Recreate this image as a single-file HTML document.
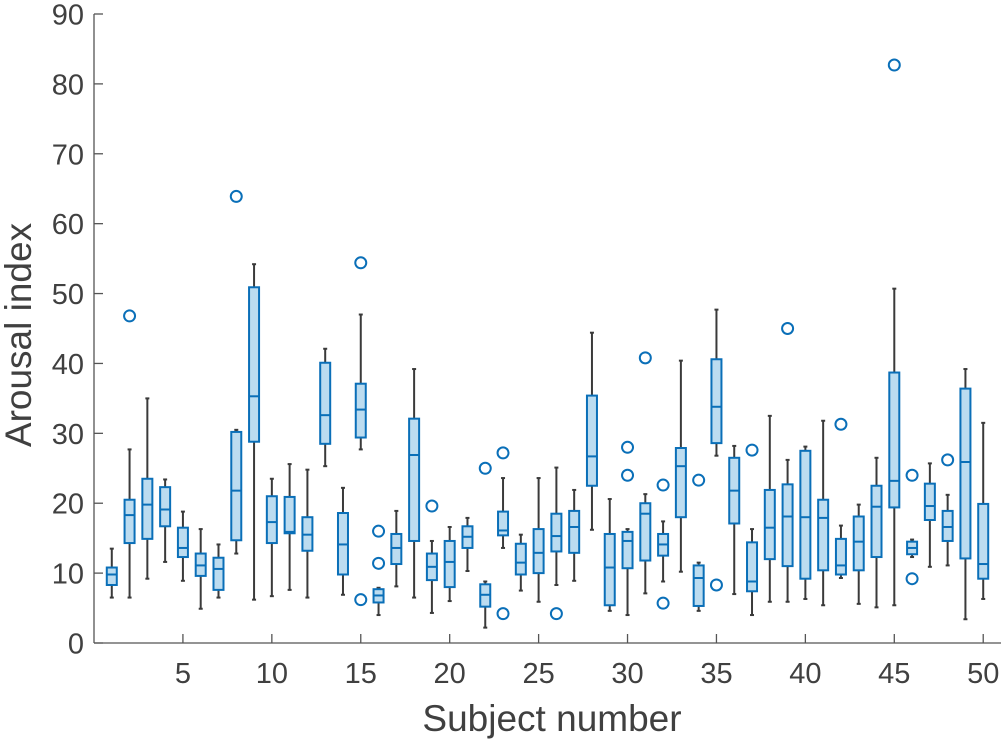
<!DOCTYPE html>
<html><head><meta charset="utf-8"><style>
body{margin:0;background:#fff;}
svg{display:block;font-family:"Liberation Sans",Arial,sans-serif;}
</style></head><body>
<svg id="chart" width="1004" height="742" viewBox="0 0 1004 742" xmlns="http://www.w3.org/2000/svg">
<g id="axes"></g><g id="marks"></g>
<text x="552" y="731" text-anchor="middle" font-size="37" fill="#404040">Subject number</text>
<text transform="translate(31,335) rotate(-90)" text-anchor="middle" font-size="37" fill="#404040">Arousal index</text>
</svg>
<script>
const subjects=[1,2,3,4,5,6,7,8,9,10,11,12,13,14,15,16,17,18,19,20,21,22,23,24,25,26,27,28,29,30,31,32,33,34,35,36,37,38,39,40,41,42,43,44,45,46,47,48,49,50];
const whiskerLow=[6.5,6.5,9.2,11.6,8.9,4.9,6.5,12.8,6.2,6.7,7.6,6.5,25.3,6.9,27.7,4.0,8.1,6.5,4.3,6.0,10.3,2.2,13.6,7.5,5.9,8.3,8.9,16.2,4.6,4.0,7.1,8.8,10.2,4.6,26.8,7.0,4.0,5.9,5.9,6.3,5.4,9.3,5.6,5.1,5.4,12.3,10.9,11.1,3.4,6.3];
const q1=[8.3,14.3,14.9,16.7,12.3,9.6,7.6,14.7,28.8,14.3,15.7,13.2,28.5,9.8,29.4,5.8,11.3,14.6,9.0,8.0,13.6,5.2,15.4,9.8,10.0,13.1,12.9,22.5,5.4,10.7,11.8,12.5,18.0,5.3,28.6,17.1,7.4,12.0,11.0,9.2,10.4,9.8,10.4,12.3,19.4,12.7,17.6,14.6,12.1,9.2];
const median=[9.8,18.3,19.8,19.1,13.6,11.1,10.6,21.8,35.3,17.3,15.9,15.5,32.6,14.1,33.4,6.8,13.6,26.9,10.9,11.6,15.2,6.9,16.1,11.5,12.9,15.3,16.6,26.7,10.8,14.6,18.5,14.1,25.3,9.3,33.8,21.8,8.8,16.5,18.1,18.0,17.9,11.1,14.5,19.5,23.2,13.6,19.6,16.6,25.9,11.3];
const q3=[10.8,20.5,23.5,22.3,16.5,12.8,12.2,30.2,50.9,21.0,20.9,18.0,40.1,18.6,37.1,7.7,15.6,32.1,12.8,14.6,16.7,8.4,18.8,14.2,16.3,18.5,18.9,35.4,15.6,15.9,20.0,15.6,27.9,11.1,40.6,26.5,14.4,21.9,22.7,27.5,20.5,14.9,18.1,22.5,38.7,14.5,22.8,18.9,36.4,19.9];
const whiskerHigh=[13.5,27.7,35.0,23.4,18.8,16.3,14.1,30.5,54.2,23.5,25.6,24.8,42.1,22.2,47.0,7.9,18.9,39.2,14.6,16.6,17.9,8.8,23.6,15.5,23.6,25.1,21.9,44.4,20.6,16.3,21.3,17.4,40.4,11.5,47.7,28.2,16.3,32.5,26.2,28.1,31.8,16.8,19.8,26.5,50.7,14.8,25.7,21.2,39.2,31.5];
const outlierSubject=[2,8,15,15,16,16,19,22,23,23,26,30,30,31,32,32,34,35,37,39,42,45,46,46,48];
const outlierValue=[46.8,63.9,54.4,6.2,16.0,11.4,19.6,25.0,27.2,4.2,4.2,28.0,24.0,40.8,22.6,5.7,23.3,8.3,27.6,45.0,31.3,82.7,24.0,9.2,26.2];
const yTicks=[0,10,20,30,40,50,60,70,80,90];
const xTicks=[5,10,15,20,25,30,35,40,45,50];

const X0=94,X1=1001,Y0=643,Y1=14;
const xs=v=>X0+(v-0)*(X1-X0)/51;
const ys=v=>Y0-(v-0)*(Y0-Y1)/90;
const NS='http://www.w3.org/2000/svg';
function mk(tag,attrs,parent){const e=document.createElementNS(NS,tag);for(const k in attrs)e.setAttribute(k,attrs[k]);parent.appendChild(e);return e;}
const axes=document.getElementById('axes'),marks=document.getElementById('marks');
let e;
e=mk('line',{x1:X0,y1:Y1,x2:X0,y2:Y0,stroke:'#555','stroke-width':1.3},axes);


e=mk('line',{x1:X0,y1:Y0,x2:X1,y2:Y0,stroke:'#555','stroke-width':1.3},axes);


yTicks.forEach(t=>{
 e=mk('line',{x1:X0,y1:ys(t),x2:X0+9,y2:ys(t),stroke:'#555','stroke-width':1.3},axes);
 
 
 e=mk('text',{x:X0-10,y:ys(t)+10.5,'text-anchor':'end','font-size':29,fill:'#404040'},axes);
 e.textContent=t;
 
 
});
xTicks.forEach(t=>{
 e=mk('line',{x1:xs(t),y1:Y0,x2:xs(t),y2:Y0-9,stroke:'#555','stroke-width':1.3},axes);
 
 
 e=mk('text',{x:xs(t),y:683,'text-anchor':'middle','font-size':29,fill:'#404040'},axes);
 e.textContent=t;
 
 
});
const BW=10,CW=4;
subjects.forEach((s,i)=>{
 const cx=xs(s);
 const g=mk('g',{},marks);
 
 
 mk('line',{x1:cx,y1:ys(whiskerLow[i]),x2:cx,y2:ys(q1[i]),stroke:'#3a3a3a','stroke-width':2},g);
 mk('line',{x1:cx,y1:ys(q3[i]),x2:cx,y2:ys(whiskerHigh[i]),stroke:'#3a3a3a','stroke-width':2},g);
 mk('line',{x1:cx-CW/2,y1:ys(whiskerLow[i]),x2:cx+CW/2,y2:ys(whiskerLow[i]),stroke:'#3a3a3a','stroke-width':2},g);
 mk('line',{x1:cx-CW/2,y1:ys(whiskerHigh[i]),x2:cx+CW/2,y2:ys(whiskerHigh[i]),stroke:'#3a3a3a','stroke-width':2},g);
 mk('rect',{x:cx-BW/2,y:ys(q3[i]),width:BW,height:Math.max(1,ys(q1[i])-ys(q3[i])),fill:'#bcdcf0',stroke:'#0a6fb8','stroke-width':2},g);
 mk('line',{x1:cx-BW/2,y1:ys(median[i]),x2:cx+BW/2,y2:ys(median[i]),stroke:'#0a6fb8','stroke-width':2},g);
});
outlierSubject.forEach((s,i)=>{
 e=mk('circle',{cx:xs(s),cy:ys(outlierValue[i]),r:5.5,fill:'none',stroke:'#0a6fb8','stroke-width':2},marks);
 
 
});
</script>
</body></html>
